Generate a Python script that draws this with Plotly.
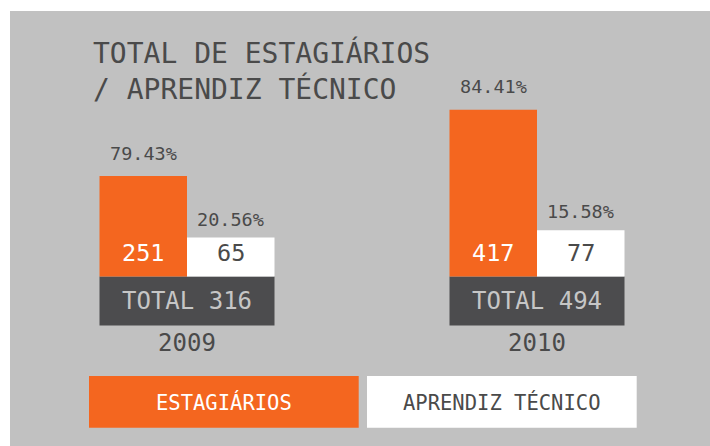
import plotly.graph_objects as go

# ---- data ----
years = ["2009", "2010"]
estagiarios = [251, 417]
aprendiz = [65, 77]
pct_estagiarios = ["79.43%", "84.41%"]
pct_aprendiz = ["20.56%", "15.58%"]
series_names = ["ESTAGIÁRIOS", "APRENDIZ TÉCNICO"]
title_lines = ["TOTAL DE ESTAGIÁRIOS", "/ APRENDIZ TÉCNICO"]
totals = [a + b for a, b in zip(estagiarios, aprendiz)]

# ---- style ----
W, H = 710, 446
ORANGE = "#F4661F"
WHITE = "#FFFFFF"
BG = "#C1C1C1"
DARK = "#4C4C4E"
TEXT = "#4A4A4A"
BAND_TEXT = "#C6C6C6"
FONT = "DejaVu Sans Mono"

xpos = list(range(len(years)))
base_px = 276.5          # pixel row of the zero line
band = 122.5             # depth of the total band (primary axis units)

def px(x):
    return x / W

def py(y):
    return (H - y) / H

fig = go.Figure()

# total band under each pair of bars
fig.add_trace(go.Bar(
    x=xpos, y=[band] * len(xpos), base=[-band] * len(xpos),
    width=0.5, offset=-0.25, marker=dict(color=DARK, line=dict(width=0)),
    text=[f"TOTAL {t}" for t in totals], textposition="inside",
    insidetextanchor="middle", textangle=0, constraintext="none",
    textfont=dict(family=FONT, size=24, color=BAND_TEXT),
    hoverinfo="skip", yaxis="y",
))
fig.add_trace(go.Bar(
    x=xpos, y=estagiarios, width=0.25, offset=-0.25, name=series_names[0],
    marker=dict(color=ORANGE, line=dict(width=0)), hoverinfo="skip", yaxis="y",
))
fig.add_trace(go.Bar(
    x=xpos, y=aprendiz, width=0.25, offset=0, name=series_names[1],
    marker=dict(color=WHITE, line=dict(width=0)), hoverinfo="skip", yaxis="y2",
))

ann = []
for i, x in enumerate(xpos):
    ann.append(dict(x=x - 0.125, y=0, xref="x", yref="y", text=str(estagiarios[i]),
                    showarrow=False, yanchor="middle", yshift=23.5,
                    font=dict(family=FONT, size=23.5, color=WHITE)))
    ann.append(dict(x=x + 0.125, y=0, xref="x", yref="y2", text=str(aprendiz[i]),
                    showarrow=False, yanchor="middle", yshift=23.5,
                    font=dict(family=FONT, size=23.5, color=TEXT)))
    ann.append(dict(x=x - 0.125, y=estagiarios[i], xref="x", yref="y",
                    text=pct_estagiarios[i], showarrow=False, yanchor="middle",
                    yshift=23, font=dict(family=FONT, size=18.5, color=TEXT)))
    ann.append(dict(x=x + 0.125, y=aprendiz[i], xref="x", yref="y2",
                    text=pct_aprendiz[i], showarrow=False, yanchor="middle",
                    yshift=18.5, font=dict(family=FONT, size=18.5, color=TEXT)))

# title
ann.append(dict(x=px(90.5), y=py(34), xref="paper", yref="paper",
                text="<br>".join(title_lines), align="left", showarrow=False,
                xanchor="left", yanchor="top",
                font=dict(family=FONT, size=28, color=TEXT)))

# legend boxes
shapes = [dict(type="rect", xref="paper", yref="paper", x0=px(10), x1=1,
               y0=0, y1=py(11), fillcolor=BG, line=dict(width=0), layer="below")]
legend_boxes = [(89, 358.7, ORANGE, WHITE), (367, 636.7, WHITE, TEXT)]
for name, (x0, x1, fill, tcol) in zip(series_names, legend_boxes):
    shapes.append(dict(type="rect", xref="paper", yref="paper", x0=px(x0), x1=px(x1),
                       y0=py(427.7), y1=py(376), fillcolor=fill, line=dict(width=0),
                       layer="below"))
    ann.append(dict(x=px((x0 + x1) / 2), y=py(402), xref="paper", yref="paper",
                    text=name, showarrow=False, xanchor="center", yanchor="middle",
                    font=dict(family=FONT, size=20.5, color=tcol)))

fig.update_layout(
    width=W, height=H, margin=dict(l=0, r=0, t=0, b=0),
    paper_bgcolor=WHITE, plot_bgcolor="rgba(0,0,0,0)",
    barmode="overlay", showlegend=False, hovermode=False,
    shapes=shapes, annotations=ann,
    xaxis=dict(range=[-187 / 350, (W - 187) / 350], tickmode="array",
               tickvals=xpos, ticktext=years, showgrid=False, zeroline=False,
               showline=False, ticks="", anchor="free", position=py(326),
               tickfont=dict(family=FONT, size=24, color=TEXT), fixedrange=True),
    yaxis=dict(range=[-(H - base_px) / 0.4, base_px / 0.4], visible=False,
               showgrid=False, zeroline=False, fixedrange=True),
    yaxis2=dict(range=[-(H - base_px) / 0.6, base_px / 0.6], visible=False,
                overlaying="y", showgrid=False, zeroline=False, fixedrange=True),
)

fig.write_html("out.html", config={"displayModeBar": False},
               post_script="document.body.style.margin='0';")
